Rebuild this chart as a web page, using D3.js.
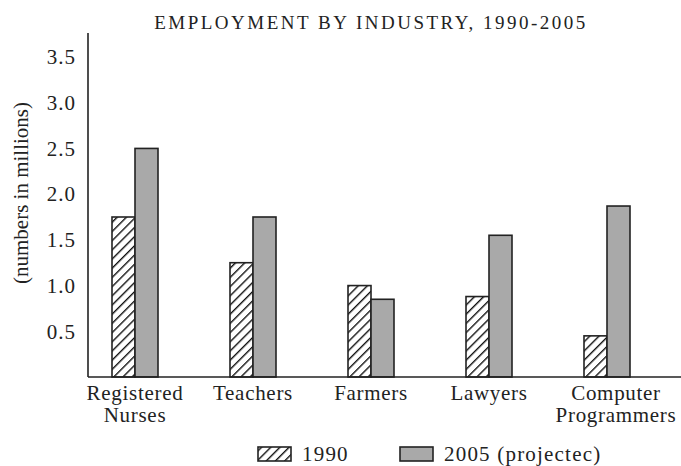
<!DOCTYPE html>
<html>
<head>
<meta charset="utf-8">
<script src="https://cdn.jsdelivr.net/npm/d3@7"></script>
<style>
  body { margin: 0; background: #fff; }
  text { font-family: "Liberation Serif", "DejaVu Serif", serif; fill: #222; }
</style>
</head>
<body>
<div id="chart"></div>
<script>
// data
const CATEGORIES = ["Registered Nurses", "Teachers", "Farmers", "Lawyers", "Computer Programmers"];
const LABEL_LINES = [["Registered", "Nurses"], ["Teachers"], ["Farmers"], ["Lawyers"], ["Computer", "Programmers"]];
const SERIES = ["1990", "2005 (projectec)"];
const VALUES_1990 = [1.75, 1.25, 1.0, 0.88, 0.45];
const VALUES_2005 = [2.5, 1.75, 0.85, 1.55, 1.87];
const Y_TICKS = [0.5, 1.0, 1.5, 2.0, 2.5, 3.0, 3.5];

const FRAME_WIDTH = 681;
const FRAME_HEIGHT = 466;
const AXIS_X = 88;
const BASE_Y = 377;

const FRAME = d3.select("#chart")
    .append("svg")
    .attr("width", FRAME_WIDTH)
    .attr("height", FRAME_HEIGHT);

// hatch pattern for 1990 bars
const defs = FRAME.append("defs");
const pat = defs.append("pattern")
    .attr("id", "hatch")
    .attr("patternUnits", "userSpaceOnUse")
    .attr("width", 6.5)
    .attr("height", 6.5)
    .attr("patternTransform", "rotate(45)");
pat.append("rect").attr("width", 6.5).attr("height", 6.5).attr("fill", "#fff");
pat.append("line")
    .attr("x1", 0).attr("y1", 0).attr("x2", 0).attr("y2", 6.5)
    .attr("stroke", "#111").attr("stroke-width", 2.8);

const Y_SCALE = d3.scaleLinear()
    .domain([0, 3.5])
    .range([BASE_Y, 57]);

const X_SCALE = d3.scaleBand()
    .domain(CATEGORIES)
    .range([76, 666])
    .padding(0);

const X_INNER = d3.scaleBand()
    .domain(SERIES)
    .range([X_SCALE.bandwidth() / 2 - 23, X_SCALE.bandwidth() / 2 + 23])
    .padding(0);

const fills = ["url(#hatch)", "#a9a9a9"];
const rows = CATEGORIES.map((c, i) => ({ cat: c, vals: [VALUES_1990[i], VALUES_2005[i]] }));

// title
FRAME.append("text")
    .attr("x", 371)
    .attr("y", 29)
    .attr("text-anchor", "middle")
    .attr("font-size", "19px")
    .attr("letter-spacing", "2.5px")
    .text("EMPLOYMENT BY INDUSTRY, 1990-2005");

// bars
const groups = FRAME.selectAll(".grp")
    .data(rows)
    .enter()
    .append("g")
    .attr("transform", (d) => "translate(" + X_SCALE(d.cat) + ",0)");

groups.selectAll("rect")
    .data((d) => d.vals.map((v, j) => ({ s: SERIES[j], v: v, j: j })))
    .enter()
    .append("rect")
    .attr("x", (d) => X_INNER(d.s))
    .attr("y", (d) => Y_SCALE(d.v))
    .attr("width", X_INNER.bandwidth())
    .attr("height", (d) => BASE_Y - Y_SCALE(d.v))
    .attr("fill", (d) => fills[d.j])
    .attr("stroke", "#222")
    .attr("stroke-width", 1.6);

// y axis
const yAxis = FRAME.append("g")
    .attr("transform", "translate(" + AXIS_X + ",0)")
    .call(d3.axisLeft(Y_SCALE).tickValues(Y_TICKS).tickFormat(d3.format(".1f")).tickSize(0).tickPadding(12));
yAxis.select(".domain").remove();
yAxis.selectAll("text")
    .attr("font-size", "21px")
    .attr("letter-spacing", "1px")
    .attr("font-family", "Liberation Serif, serif")
    .attr("fill", "#333");

FRAME.append("line")
    .attr("x1", AXIS_X).attr("x2", AXIS_X)
    .attr("y1", 33).attr("y2", BASE_Y)
    .attr("stroke", "#222").attr("stroke-width", 1.6);

// x axis baseline
FRAME.append("line")
    .attr("x1", AXIS_X).attr("x2", FRAME_WIDTH)
    .attr("y1", BASE_Y).attr("y2", BASE_Y)
    .attr("stroke", "#222").attr("stroke-width", 1.6);

// category labels
FRAME.selectAll(".cat")
    .data(CATEGORIES)
    .enter()
    .append("text")
    .attr("x", (d) => X_SCALE(d) + X_SCALE.bandwidth() / 2)
    .attr("y", 400)
    .attr("text-anchor", "middle")
    .attr("font-size", "21px")
    .attr("letter-spacing", "0.7px")
    .each(function (d, i) {
        const t = d3.select(this);
        LABEL_LINES[i].forEach((ln, k) => {
            t.append("tspan")
                .attr("x", X_SCALE(d) + X_SCALE.bandwidth() / 2 + (i === 4 ? 9 : 0))
                .attr("dy", k === 0 ? 0 : 22)
                .text(ln);
        });
    });

// y label
FRAME.append("text")
    .attr("transform", "translate(28,193) rotate(-90)")
    .attr("text-anchor", "middle")
    .attr("font-size", "21px")
    .text("(numbers in millions)");

// legend
const legend = [
    { x: 258, label: SERIES[0], fill: fills[0] },
    { x: 400, label: SERIES[1], fill: fills[1] }
];
legend.forEach((l) => {
    FRAME.append("rect")
        .attr("x", l.x).attr("y", 447)
        .attr("width", 33).attr("height", 14)
        .attr("fill", l.fill)
        .attr("stroke", "#222").attr("stroke-width", 1.6);
    FRAME.append("text")
        .attr("x", l.x + 44).attr("y", 461)
        .attr("font-size", "21px")
        .attr("letter-spacing", "1.2px")
        .text(l.label);
});
</script>
</body>
</html>
